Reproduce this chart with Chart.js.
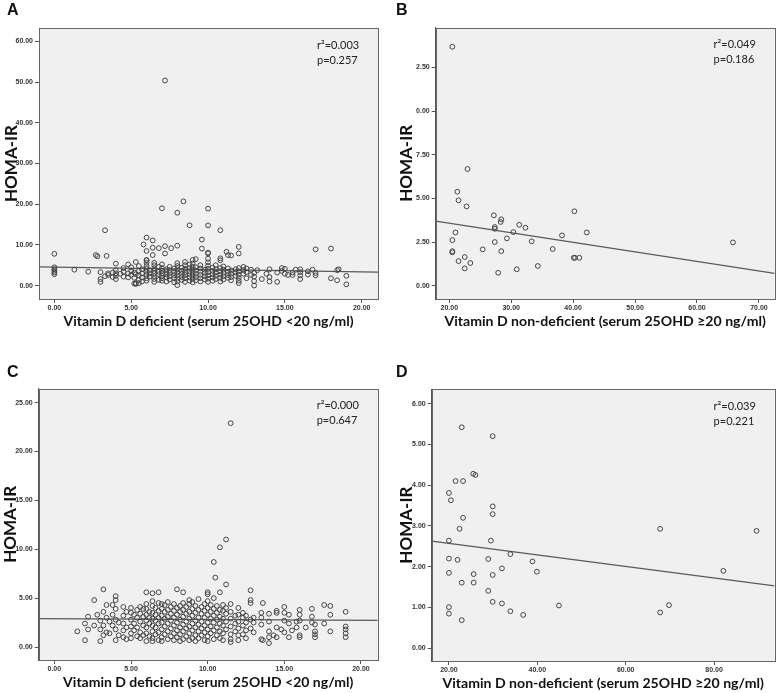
<!DOCTYPE html>
<html>
<head>
<meta charset="utf-8">
<script src="https://cdn.jsdelivr.net/npm/chart.js@4"></script>
<style>
  body { margin: 0; background: #fff; width: 778px; height: 693px; position: relative; overflow: hidden; }
  .panel { position: absolute; width: 389px; }
  canvas { display: block; }
</style>
</head>
<body>
<div class="panel" style="left:0;top:0;height:346px"><canvas id="panelA" width="389" height="346"></canvas></div>
<div class="panel" style="left:389px;top:0;height:346px"><canvas id="panelB" width="389" height="346"></canvas></div>
<div class="panel" style="left:0;top:346px;height:347px"><canvas id="panelC" width="389" height="347"></canvas></div>
<div class="panel" style="left:389px;top:346px;height:347px"><canvas id="panelD" width="389" height="347"></canvas></div>
<script>
/* HOMA-IR vs serum 25OHD, four scatter panels */

// ============ DATA ============
// Panels A and C: [vitamin D, [HOMA-IR values at that vitamin D]]
const aColumns = [
  [0.0, [2.8, 3.2, 3.6, 4.0, 4.5, 7.8]], [1.3, [3.9]], [2.2, [3.4]], [2.7, [7.5]], [2.8, [7.2]],
  [3.0, [0.9, 1.6, 3.3]], [3.3, [2.3, 13.6]], [3.4, [7.3]], [3.5, [2.6, 3.0]], [3.8, [2.1, 3.2]],
  [4.0, [1.6, 2.4, 3.0, 3.8, 5.4]], [4.3, [2.9]], [4.5, [2.2, 3.4, 4.3]], [4.8, [2.0, 3.0, 5.2]],
  [5.0, [2.6, 3.6, 4.5]], [5.2, [0.5, 1.9, 3.2]], [5.3, [0.4, 0.6, 2.8, 5.8]],
  [5.5, [0.6, 1.4, 2.5, 3.6, 4.8]], [5.7, [1.0, 2.0, 3.0, 4.0]], [5.8, [10.1]],
  [6.0, [1.2, 1.8, 2.6, 3.4, 4.1, 4.8, 5.6, 6.2, 6.3, 8.5, 11.8]], [6.2, [2.2, 3.0, 3.8]],
  [6.4, [7.5, 9.3, 11.1]], [6.5, [0.9, 1.6, 2.3, 3.0, 3.6, 4.2, 5.0, 5.6]],
  [6.8, [1.4, 2.8, 3.4, 4.6, 9.2]], [7.0, [1.2, 1.8, 2.4, 3.0, 3.6, 4.3, 5.2, 19.0]],
  [7.2, [7.9, 9.7, 50.4]], [7.3, [1.0, 2.0, 2.7, 3.3, 4.0]], [7.5, [1.5, 2.3, 3.1, 3.8, 4.6]],
  [7.6, [9.2]], [7.8, [0.8, 1.9, 2.6, 3.4, 4.2]],
  [8.0, [0.1, 1.0, 1.7, 2.5, 3.2, 4.0, 4.8, 5.5, 9.8, 17.9]], [8.3, [1.4, 2.1, 2.9, 3.6, 4.4]],
  [8.4, [20.7]], [8.5, [0.9, 1.8, 2.6, 3.3, 4.1, 5.0, 5.8]],
  [8.8, [1.2, 2.0, 2.8, 3.5, 4.3, 5.2, 14.8]], [9.0, [0.8, 1.6, 2.4, 3.1, 3.9, 4.6, 5.4, 6.3]],
  [9.2, [1.3, 2.1, 2.9, 3.7, 4.5, 6.5]], [9.5, [1.0, 1.8, 2.6, 3.4, 4.2, 5.0]], [9.6, [9.1, 11.3]],
  [9.8, [1.5, 2.3, 3.1, 3.9]], [10.0, [0.9, 1.7, 2.5, 3.3, 4.1, 4.9, 5.7, 6.6, 7.9, 8.1, 14.8, 18.9]],
  [10.3, [1.2, 2.0, 2.8, 3.6, 4.4]], [10.5, [1.6, 2.4, 3.2, 4.0, 5.0]],
  [10.8, [1.0, 1.9, 2.7, 3.5, 4.3, 6.2, 6.7, 13.6]], [11.0, [1.5, 2.3, 3.1, 3.9, 4.7]], [11.2, [8.3]],
  [11.3, [1.9, 2.6, 3.4, 4.2, 7.5]], [11.5, [1.3, 2.1, 2.9, 3.7, 7.4]], [11.8, [2.4, 3.2, 4.0]],
  [12.0, [0.6, 1.2, 1.9, 2.7, 3.5, 4.3, 7.9, 9.5]], [12.3, [2.9, 3.8, 4.6]], [12.5, [1.8, 3.3, 4.2]],
  [12.8, [2.6, 3.9]], [13.0, [0.0, 1.1, 2.2, 3.1]], [13.2, [3.8]], [13.5, [1.6]], [13.8, [2.9]],
  [14.0, [1.0, 2.1, 4.0]], [14.5, [0.9, 3.2]], [14.8, [3.6, 4.3]], [15.0, [2.9, 4.1]], [15.2, [2.6]],
  [15.5, [2.6, 3.2]], [15.7, [3.9]], [16.0, [1.6, 2.5, 3.3, 4.0]], [16.5, [2.7, 3.5]], [16.8, [3.9]],
  [17.0, [2.5, 3.1, 8.9]], [18.0, [1.8, 9.1]], [18.4, [1.3, 3.8]], [18.5, [4.0]], [19.0, [0.3, 2.4]]
];

const cColumns = [
  [1.5, [1.6]], [2.0, [0.7, 2.4]], [2.2, [1.8, 3.1]], [2.6, [2.2, 4.8]], [2.8, [3.3]],
  [3.0, [0.6, 1.8, 2.7]], [3.2, [1.2, 2.2, 3.6, 5.9]], [3.4, [1.5, 3.0, 4.3]], [3.6, [1.4, 2.6]],
  [3.8, [2.2, 3.3, 4.3]], [4.0, [0.7, 1.8, 2.8, 3.9, 4.8, 5.2]], [4.2, [1.2, 2.5]],
  [4.5, [1.0, 1.7, 2.4, 3.2, 4.1]], [4.7, [0.8, 2.0, 3.6]], [5.0, [0.9, 1.4, 2.1, 2.8, 3.5, 4.0]],
  [5.2, [1.7, 2.4, 3.3]], [5.4, [1.1, 2.0, 3.0, 3.8]], [5.6, [0.9, 1.5, 2.6, 3.4, 4.1]],
  [5.8, [1.2, 2.2, 3.1, 3.9]], [6.0, [0.6, 1.4, 2.0, 2.7, 3.3, 3.9, 4.4, 5.6]],
  [6.2, [1.1, 2.4, 3.0, 3.6]], [6.4, [0.6, 0.9, 1.6, 2.2, 2.9, 3.5, 4.2, 4.7, 5.5]],
  [6.6, [1.3, 2.0, 2.7, 3.3, 4.0]], [6.8, [0.7, 1.5, 2.4, 3.0, 3.7, 4.5, 5.6]],
  [7.0, [0.6, 1.0, 1.8, 2.5, 3.2, 3.9, 4.4]], [7.2, [1.3, 2.1, 2.9, 3.6, 4.3]],
  [7.4, [0.8, 1.6, 2.4, 3.1, 3.8, 4.6]], [7.6, [1.1, 1.9, 2.7, 3.4, 4.1]],
  [7.8, [0.7, 1.4, 2.2, 3.0, 3.7, 4.4]], [8.0, [1.0, 1.7, 2.5, 3.3, 4.0, 5.9]],
  [8.2, [0.6, 1.3, 2.0, 2.8, 3.6, 4.2]], [8.4, [0.8, 1.6, 2.3, 3.1, 3.8, 4.5, 5.6]],
  [8.6, [1.1, 1.9, 2.6, 3.4, 4.1]], [8.8, [0.7, 1.4, 2.1, 2.9, 3.6, 4.4, 4.8]],
  [9.0, [0.9, 1.7, 2.4, 3.2, 3.9, 4.6]], [9.2, [0.6, 1.2, 2.0, 2.7, 3.5, 4.2]],
  [9.4, [0.9, 1.6, 2.3, 3.0, 3.8, 4.9]], [9.6, [1.2, 1.9, 2.6, 3.4, 4.1]],
  [9.8, [0.7, 1.5, 2.2, 3.0, 3.7, 4.4]], [10.0, [0.6, 1.1, 1.8, 2.5, 3.3, 4.0, 4.7, 5.4, 5.6]],
  [10.2, [1.4, 2.1, 2.9, 3.6, 4.3]], [10.4, [0.8, 1.7, 2.5, 3.2, 3.9, 5.0, 8.7]], [10.5, [7.1]],
  [10.6, [1.2, 2.0, 2.8, 3.5, 4.2]], [10.8, [0.9, 1.6, 2.4, 3.1, 3.8, 5.6, 10.2]],
  [11.0, [0.7, 1.4, 2.2, 2.9, 3.7, 4.3]], [11.2, [1.8, 2.6, 3.4, 4.0, 6.4, 11.0]],
  [11.5, [0.5, 0.8, 1.3, 2.1, 2.9, 3.6, 4.4, 22.9]], [11.8, [1.6, 2.4, 3.2]],
  [12.0, [0.7, 1.2, 1.9, 2.6, 3.3, 4.0]], [12.3, [1.3, 2.2, 3.0, 3.5]], [12.5, [0.9, 1.7, 2.5, 3.2]],
  [12.8, [1.9, 2.8, 4.5, 4.8, 5.8]], [13.0, [1.5, 2.5, 3.0]], [13.5, [0.8, 2.3, 3.0, 3.5]],
  [13.6, [0.7, 4.5]], [14.0, [0.4, 1.0, 1.6, 2.6, 3.4]], [14.3, [1.2]], [14.5, [1.0, 2.0, 3.5, 3.7]],
  [14.8, [1.8]], [15.0, [1.5, 2.7, 3.5, 4.1]], [15.3, [1.0, 2.4, 3.3]], [15.5, [1.7]],
  [15.8, [2.0, 2.6]], [16.0, [1.0, 1.2, 2.7, 3.3, 3.8]], [16.4, [2.0]], [16.8, [2.5, 3.1, 3.9]],
  [17.0, [1.0, 1.3, 1.6, 2.3]], [17.6, [2.4, 4.3]], [18.0, [1.6, 3.3, 4.2]],
  [19.0, [1.0, 1.4, 1.8, 2.1, 3.6]]
];

// Panels B and D: [vitamin D, HOMA-IR]
const bPoints = [
  [20.5, 13.68], [22.95, 6.68], [21.3, 5.38], [21.5, 4.89], [22.8, 4.54], [27.2, 4.03], [40.2, 4.26],
  [28.4, 3.80], [28.3, 3.65], [27.35, 3.36], [27.35, 3.26], [31.3, 3.49], [32.3, 3.32], [30.35, 3.07],
  [21.0, 3.05], [42.2, 3.05], [38.2, 2.88], [29.3, 2.71], [20.5, 2.61], [27.35, 2.50], [33.3, 2.54],
  [25.4, 2.08], [36.7, 2.10], [28.4, 1.98], [20.5, 1.98], [20.5, 1.91], [22.5, 1.64], [40.1, 1.60],
  [40.3, 1.60], [41.0, 1.60], [21.5, 1.41], [23.4, 1.30], [22.5, 0.99], [30.9, 0.94], [34.3, 1.13],
  [27.9, 0.74], [65.8, 2.48]
];

const dPoints = [
  [22.9, 5.42], [29.9, 5.20], [25.5, 4.28], [26.0, 4.25], [21.5, 4.10], [23.2, 4.10], [20.0, 3.81],
  [20.45, 3.63], [29.9, 3.48], [29.9, 3.29], [23.2, 3.20], [22.4, 2.93], [67.8, 2.93], [89.6, 2.88],
  [20.0, 2.64], [29.5, 2.64], [33.9, 2.31], [20.0, 2.20], [21.95, 2.17], [28.9, 2.19], [38.9, 2.13],
  [32.0, 1.96], [39.9, 1.88], [82.1, 1.90], [20.0, 1.85], [25.6, 1.82], [29.9, 1.80], [22.9, 1.61],
  [25.6, 1.61], [28.9, 1.41], [29.9, 1.14], [32.0, 1.10], [20.0, 1.01], [44.9, 1.05], [69.8, 1.06],
  [67.8, 0.88], [20.0, 0.85], [33.9, 0.91], [36.8, 0.82], [22.9, 0.69]
];

// Fit lines: endpoints at the plot edges
const aFit = [[-1.0, 4.58], [21.06, 3.30]];
const bFit = [[17.81, 3.70], [72.53, 0.71]];
const cFit = [[-1.02, 2.90], [21.09, 2.73]];
const dFit = [[16.1, 2.63], [93.7, 1.53]];

// Axis ticks and labels
const xTicksDeficient = [0, 5, 10, 15, 20];
const xTicksB = [20, 30, 40, 50, 60, 70];
const xTicksD = [20, 40, 60, 80];
const yTicksA = [0, 10, 20, 30, 40, 50, 60];
const yTicksB = [0, 2.5, 5, 7.5, 10, 12.5];
const yLabelsB = ['0.00', '2.50', '5.00', '7.50', '0.00', '2.50'];
const yTicksC = [0, 5, 10, 15, 20, 25];
const yTicksD = [0, 1, 2, 3, 4, 5, 6];

const stats = {
  A: ['r\u00B2=0.003', 'p=0.257'],
  B: ['r\u00B2=0.049', 'p=0.186'],
  C: ['r\u00B2=0.000', 'p=0.647'],
  D: ['r\u00B2=0.039', 'p=0.221']
};

const titleDeficient = 'Vitamin D deficient (serum 25OHD <20 ng/ml)';
const titleNonDeficient = 'Vitamin D non-deficient (serum 25OHD \u226520 ng/ml)';

// ============ HELPERS ============
const flattenColumns = cols => cols.flatMap(([x, ys]) => ys.map(y => ({ x, y })));
const toXY = pts => pts.map(([x, y]) => ({ x, y }));
const fixed2 = v => Number(v).toFixed(2);

const tickFont = { family: 'Arial, "Liberation Sans"', size: 7, weight: 'bold' };
const AXIS_GREY = '#555';

// plot background, frame, panel letter and r²/p text
const panelDeco = {
  id: 'panelDeco',
  beforeDraw(chart, args, o) {
    const { ctx, chartArea: a } = chart;
    ctx.save();
    ctx.fillStyle = '#f0f0f0';
    ctx.fillRect(a.left, a.top, a.right - a.left, a.bottom - a.top);
    ctx.restore();
  },
  afterDatasetsDraw(chart, args, o) {
    const { ctx, chartArea: a } = chart;
    ctx.save();
    ctx.strokeStyle = '#666';
    ctx.lineWidth = 1;
    ctx.strokeRect(Math.round(a.left) + 0.5, Math.round(a.top) + 0.5,
      Math.round(a.right - a.left), Math.round(a.bottom - a.top));

    ctx.fillStyle = '#111';
    ctx.textBaseline = 'middle';
    ctx.textAlign = 'left';
    ctx.font = 'bold 16px Arial, "Liberation Sans"';
    ctx.fillText(o.letter, 7, o.letterY);

    ctx.fillStyle = '#222';
    ctx.font = '11px Lato, "Open Sans"';
    ctx.fillText(o.stats[0], a.right - 61, a.top + 17);
    ctx.fillText(o.stats[1], a.right - 61, a.top + 32);
    ctx.restore();
  }
};

function makePanel(id, p) {
  new Chart(document.getElementById(id), {
    type: 'scatter',
    data: {
      datasets: [
        {
          data: p.points,
          pointRadius: 2.4,
          pointHoverRadius: 2.4,
          borderWidth: 1,
          borderColor: '#454545',
          backgroundColor: 'rgba(0,0,0,0)'
        },
        {
          type: 'line',
          data: toXY(p.fit),
          borderColor: '#5a5a5a',
          borderWidth: 1.3,
          pointRadius: 0,
          fill: false
        }
      ]
    },
    options: {
      responsive: false,
      animation: false,
      layout: { padding: p.pad },
      plugins: {
        legend: { display: false },
        tooltip: { enabled: false },
        panelDeco: { letter: p.letter, letterY: p.letterY, stats: p.stats }
      },
      scales: {
        x: {
          type: 'linear',
          min: p.xRange[0],
          max: p.xRange[1],
          afterBuildTicks: s => { s.ticks = p.xTicks.map(v => ({ value: v })); },
          afterFit: s => { s.height = 32; },
          ticks: { font: tickFont, color: '#333', padding: 1, maxRotation: 0, callback: v => fixed2(v) },
          grid: { display: true, drawOnChartArea: false, drawTicks: true, tickLength: 4, color: AXIS_GREY },
          border: { display: true, color: AXIS_GREY },
          title: {
            display: true,
            text: p.xTitle,
            color: '#111',
            font: { family: 'Lato, "Open Sans"', size: p.xTitleSize, weight: 'bold', lineHeight: 1.2 },
            padding: { top: 0, bottom: 10 - p.xTitleSize * 0.6 }
          }
        },
        y: {
          type: 'linear',
          min: p.yRange[0],
          max: p.yRange[1],
          afterBuildTicks: s => { s.ticks = p.yTicks.map(v => ({ value: v })); },
          afterFit: s => { s.width = p.yWidth; },
          ticks: {
            font: tickFont, color: '#333', padding: 2,
            callback: (v, i) => (p.yLabels ? p.yLabels[i] : fixed2(v))
          },
          grid: { display: true, drawOnChartArea: false, drawTicks: true, tickLength: 4, color: AXIS_GREY },
          border: { display: true, color: AXIS_GREY },
          title: {
            display: true,
            text: 'HOMA-IR',
            color: '#111',
            font: { family: 'Lato, "Open Sans"', size: 17, weight: 'bold', lineHeight: 1.2 },
            padding: { top: p.yTitlePad, bottom: 0 }
          }
        }
      }
    },
    plugins: [panelDeco]
  });
}

// ============ PANELS ============
makePanel('panelA', {
  letter: 'A', letterY: 11, stats: stats.A,
  points: flattenColumns(aColumns), fit: aFit,
  xRange: [-1.0, 21.06], yRange: [-3.3, 63.3],
  xTicks: xTicksDeficient, yTicks: yTicksA,
  xTitle: titleDeficient, xTitleSize: 14,
  pad: { left: 0, top: 28, right: 11, bottom: 15 }, yWidth: 39, yTitlePad: 1.8
});

makePanel('panelB', {
  letter: 'B', letterY: 11, stats: stats.B,
  points: toXY(bPoints), fit: bFit,
  xRange: [17.81, 72.53], yRange: [-0.76, 14.77],
  xTicks: xTicksB, yTicks: yTicksB, yLabels: yLabelsB,
  xTitle: titleNonDeficient, xTitleSize: 14.1,
  pad: { left: 0, top: 27.7, right: 2.3, bottom: 15 }, yWidth: 46.7, yTitlePad: 7.1
});

makePanel('panelC', {
  letter: 'C', letterY: 27, stats: stats.C,
  points: flattenColumns(cColumns), fit: cFit,
  xRange: [-1.02, 21.09], yRange: [-1.33, 26.43],
  xTicks: xTicksDeficient, yTicks: yTicksC,
  xTitle: titleDeficient, xTitleSize: 14,
  pad: { left: 0, top: 42.7, right: 11.3, bottom: 1 }, yWidth: 38.7, yTitlePad: 0.3
});

makePanel('panelD', {
  letter: 'D', letterY: 27, stats: stats.D,
  points: toXY(dPoints), fit: dFit,
  xRange: [16.1, 93.7], yRange: [-0.31, 6.35],
  xTicks: xTicksD, yTicks: yTicksD,
  xTitle: titleNonDeficient, xTitleSize: 14.1,
  pad: { left: 0, top: 43.3, right: 2.3, bottom: 0 }, yWidth: 42.7, yTitlePad: 7.1
});
</script>
</body>
</html>
